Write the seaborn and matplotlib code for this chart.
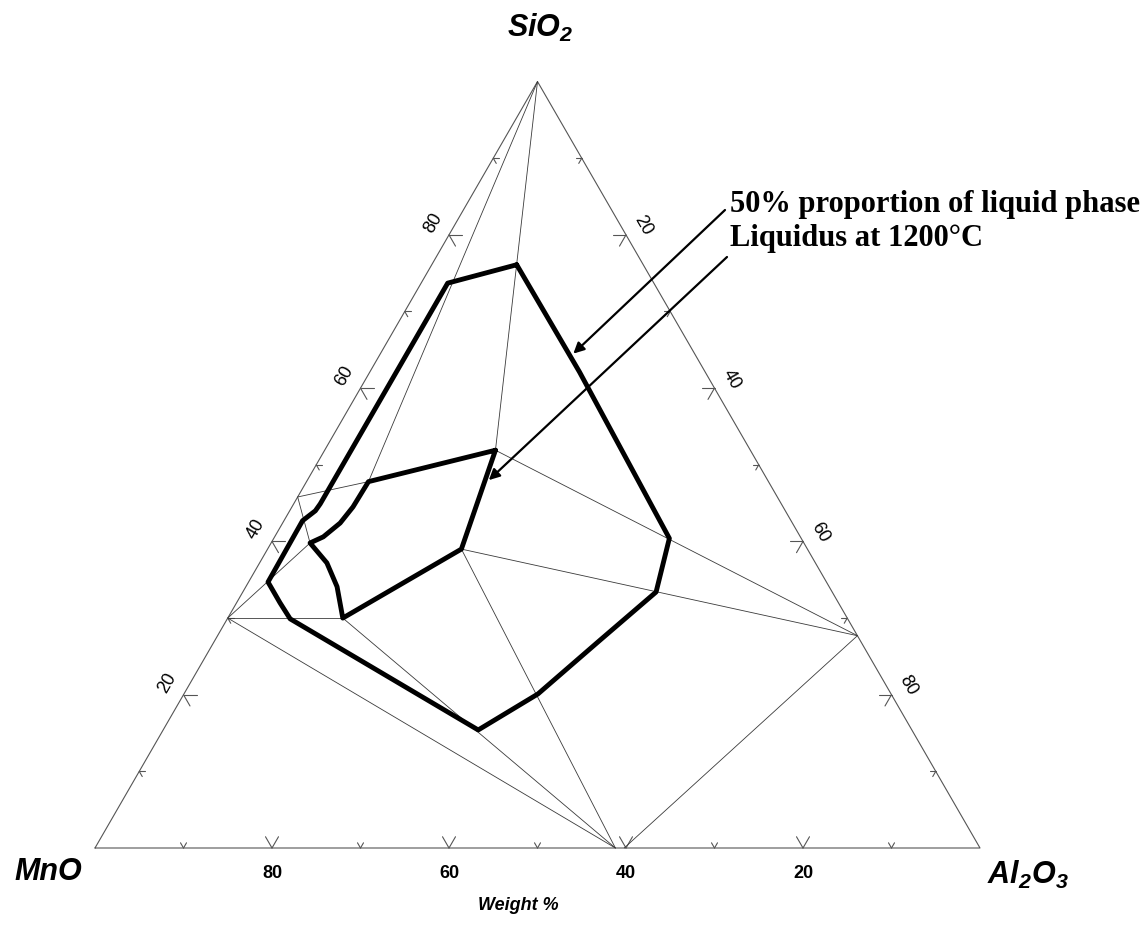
import numpy as np
import pandas as pd
import matplotlib
matplotlib.use("Agg")
import matplotlib.pyplot as plt
import seaborn as sns

# ---------------- data (wt %) ----------------
# 50 % proportion of liquid phase (outer contour)
outer_sio2 = [76.1, 62.1, 40.4, 33.4, 27.1, 20.1, 15.4, 29.9, 32.0, 34.7, 42.7, 44.0, 44.9, 73.7, 76.1]
outer_al2o3 = [9.6, 23.7, 44.7, 46.7, 43.5, 40.0, 35.6, 7.1, 4.9, 2.2, 2.1, 2.9, 3.0, 3.0, 9.6]

# Liquidus at 1200 C (inner contour)
inner_sio2 = [51.9, 47.8, 44.5, 42.4, 40.6, 39.8, 37.2, 34.1, 30.0, 39.0, 51.9]
inner_al2o3 = [19.3, 7.0, 6.9, 6.5, 5.5, 4.4, 7.6, 10.3, 13.0, 21.9, 19.3]

# phase-boundary / tie lines (start -> end)
tie_from_sio2 = [100, 100, 47.8, 45.8, 30.0, 30.0, 30.0, 30.0, 39.0, 39.0, 51.9, 27.7]
tie_from_al2o3 = [0, 0, 7.0, 0, 0, 0, 0, 13.0, 21.9, 21.9, 19.3, 72.3]
tie_to_sio2 = [51.9, 47.8, 45.8, 39.8, 39.8, 30.0, 0, 0, 0, 27.7, 27.7, 0]
tie_to_al2o3 = [19.3, 7.0, 0, 4.4, 4.4, 13.0, 58.8, 58.8, 58.8, 72.3, 72.3, 59.8]

tick_values = [10, 20, 30, 40, 50, 60, 70, 80, 90]
label_values = [20, 40, 60, 80]

# arrow targets (SiO2, Al2O3)
arrow_targets = [(64.5, 21.8), (48.0, 20.5)]
arrow_texts = ["50% proportion of liquid phase", "Liquidus at 1200\u00b0C"]

# ---------------- helpers ----------------
H = np.sqrt(3) / 2
SCALE = 885.0  # pixels per unit side


def tern(sio2, al2o3):
    s = np.asarray(sio2, float) / 100.0
    a = np.asarray(al2o3, float) / 100.0
    return a + s / 2, s * H


def P(px, py):
    return (px - 95) / SCALE, (848 - py) / SCALE


sns.set_theme(style="white")
plt.rcParams["text.color"] = "black"
plt.rcParams["mathtext.fontset"] = "custom"
plt.rcParams["mathtext.rm"] = "Liberation Sans:italic:bold"
plt.rcParams["mathtext.it"] = "Liberation Sans:italic:bold"
plt.rcParams["mathtext.bf"] = "Liberation Sans:italic:bold"

fig = plt.figure(figsize=(11.45, 9.26), dpi=100)
ax = fig.add_axes([0, 0, 1, 1])
ax.set_xlim(-95 / SCALE, 1050 / SCALE)
ax.set_ylim(-78 / SCALE, 848 / SCALE)
ax.set_axis_off()

# triangle frame
fx, fy = tern([0, 0, 100, 0], [0, 100, 0, 0])
sns.lineplot(x=fx, y=fy, sort=False, estimator=None, color="#555555",
             linewidth=0.8, ax=ax)

# ticks along the three edges
tick_rows = []
seg = 0
for v in tick_values:
    L = (13 if v in label_values else 6) / SCALE
    bx, by = tern(0, 100 - v)
    for ang in (60, 120):
        tick_rows += [(seg, bx, by), (seg, bx + L * np.cos(np.radians(ang)),
                                      by + L * np.sin(np.radians(ang)))]
        seg += 1
    lx, ly = tern(v, 0)
    for ang in (0, -60):
        tick_rows += [(seg, lx, ly), (seg, lx + L * np.cos(np.radians(ang)),
                                      ly + L * np.sin(np.radians(ang)))]
        seg += 1
    rx, ry = tern(100 - v, v)
    for ang in (180, 240):
        tick_rows += [(seg, rx, ry), (seg, rx + L * np.cos(np.radians(ang)),
                                      ry + L * np.sin(np.radians(ang)))]
        seg += 1
ticks_df = pd.DataFrame(tick_rows, columns=["seg", "x", "y"])
sns.lineplot(data=ticks_df, x="x", y="y", units="seg", estimator=None, sort=False,
             color="#555555", linewidth=0.8, legend=False, ax=ax)

# tie lines
rows = []
for i in range(len(tie_from_sio2)):
    x0, y0 = tern(tie_from_sio2[i], tie_from_al2o3[i])
    x1, y1 = tern(tie_to_sio2[i], tie_to_al2o3[i])
    rows += [(i, x0, y0), (i, x1, y1)]
ties_df = pd.DataFrame(rows, columns=["seg", "x", "y"])
sns.lineplot(data=ties_df, x="x", y="y", units="seg", estimator=None, sort=False,
             color="#3a3a3a", linewidth=0.6, legend=False, ax=ax)

# contours
ox, oy = tern(outer_sio2, outer_al2o3)
sns.lineplot(x=ox, y=oy, sort=False, estimator=None, color="black",
             linewidth=3.5, ax=ax)
ix, iy = tern(inner_sio2, inner_al2o3)
sns.lineplot(x=ix, y=iy, sort=False, estimator=None, color="black",
             linewidth=3.5, ax=ax)

# tick labels
d = 1 / SCALE
for v in label_values:
    bx, by = tern(0, 100 - v)
    ax.text(bx, by - 25 * d, str(v), ha="center", va="center", fontsize=13,
            fontweight="bold", family="Liberation Sans", color="black")
    lx, ly = tern(v, 0)
    ax.text(lx - 16 * d, ly + 12 * d, str(v), ha="center", va="center",
            fontsize=13, rotation=60, family="Liberation Sans", color="black")
    rx, ry = tern(100 - v, v)
    ax.text(rx + 17 * d, ry + 9 * d, str(v), ha="center", va="center",
            fontsize=13, rotation=-60, family="Liberation Sans", color="black")

# vertex labels
vfont = dict(family="Liberation Sans", fontweight="bold", style="italic",
             fontsize=22, color="black")
ax.text(*P(540, 28), "SiO$_2$", ha="center", va="center", **vfont)
ax.text(*P(48, 872), "MnO", ha="center", va="center", **vfont)
ax.text(*P(1028, 875), "Al$_2$O$_3$", ha="center", va="center", **vfont)
ax.text(*P(518, 906), "Weight %", ha="center", va="center", family="Liberation Sans",
        fontweight="bold", style="italic", fontsize=13, color="black")

# annotations with arrows
starts = [(725, 210), (727, 257)]
text_pos = [(730, 212), (730, 246)]
for (ts, ta), (sx, sy), (tx, ty), txt in zip(arrow_targets, starts, text_pos, arrow_texts):
    tx_d, ty_d = tern(ts, ta)
    ax.annotate("", xy=(tx_d, ty_d), xytext=P(sx, sy),
                arrowprops=dict(arrowstyle="-|>", color="black", lw=1.6,
                                mutation_scale=16, shrinkA=0, shrinkB=0))
    ax.text(*P(tx, ty), txt, ha="left", va="baseline", fontsize=22,
            fontweight="bold", family="Liberation Serif", color="black")

fig.savefig("out.png", dpi=100, facecolor="white")
